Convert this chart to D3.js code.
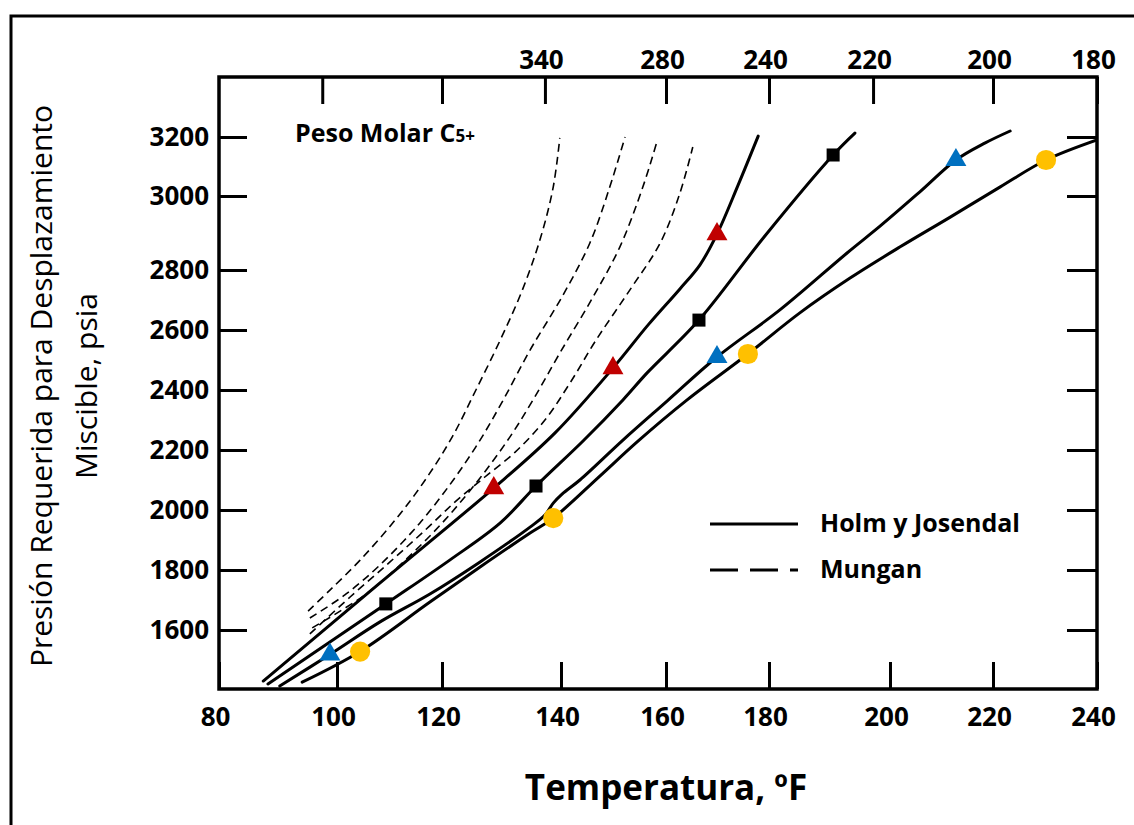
<!DOCTYPE html>
<html>
<head>
<meta charset="utf-8">
<script src="https://cdn.jsdelivr.net/npm/d3@7"></script>
<style>
  html, body { margin: 0; padding: 0; background: #fff; }
  svg { display: block; }
</style>
</head>
<body>
<svg id="chart" width="1134" height="825"></svg>
<script>
// ---- Axis values ----
const tempTicks = [80, 100, 120, 140, 160, 180, 200, 220, 240];          // °F, bottom axis
const pressureTicks = [1600, 1800, 2000, 2200, 2400, 2600, 2800, 3000, 3200]; // psia, left axis
// C5+ molecular-weight scale on the top edge, placed at the temperature of each mark
const molarTickTemps = [97.5, 120, 137.3, 160, 180, 197.2, 220, 240];
const molarTickLabels = ["", "", "340", "280", "240", "220", "200", "180"];

// ---- Holm y Josendal correlation curves: [temperature °F, pressure psia] ----
const holmRed = [[87.5,1427],[108.2,1757],[128.7,2073],[139.0,2257],[149.9,2473],[156.6,2617],
                 [162.7,2737],[166.6,2814],[169.9,2897],[174.0,3037],[177.9,3203]];
const holmBlack = [[88.3,1417],[109.3,1687],[121.3,1833],[129.8,1957],[135.8,2080],[144.2,2230],
                   [151.8,2367],[156.4,2457],[166.4,2633],[179.2,2892],[190.6,3139],[194.2,3213]];
const holmBlue = [[90.3,1410],[98.8,1517],[108.2,1627],[117.7,1720],[126.4,1827],[134.8,1943],
                  [137.3,1983],[138.7,2023],[140.2,2053],[143.6,2100],[151.8,2233],[160.2,2363],
                  [169.9,2510],[181.8,2667],[192.9,2846],[198.4,2919],[205.8,3014],[212.8,3122],
                  [218.5,3180],[223.3,3220]];
const holmYellow = [[94.1,1423],[104.4,1527],[117.7,1693],[126.4,1810],[134.8,1923],[138.7,1973],
                    [147.4,2113],[154.5,2227],[164.1,2367],[175.9,2520],[185.1,2657],[193.4,2773],
                    [201.9,2862],[211.7,2943],[221.4,3031],[230.2,3122],[240.0,3190]];

// ---- Mungan correlation curves (one per C5+ molecular weight) ----
const mungan1 = [[95.1,1663],[98.8,1733],[104.4,1833],[111.1,1967],[116.8,2100],[121.7,2243],
                 [125.7,2400],[129.8,2567],[133.5,2733],[136.6,2889],[138.7,3031],[139.8,3197]];
const mungan2 = [[95.4,1640],[101.5,1717],[108.2,1817],[115.8,1957],[121.9,2100],[126.4,2233],
                 [130.3,2367],[134.8,2533],[140.4,2717],[145.5,2873],[149.3,3031],[152.2,3200]];
const mungan3 = [[95.8,1607],[105.3,1717],[113.0,1833],[120.5,1967],[126.4,2107],[131.4,2243],
                 [135.3,2367],[139.8,2523],[146.1,2710],[151.2,2862],[155.6,3031],[158.3,3186]];
const mungan4 = [[95.4,1587],[102.5,1710],[110.1,1827],[116.8,1933],[122.2,2027],[127.2,2110],
                 [132.3,2193],[137.3,2300],[141.7,2423],[146.7,2567],[153.1,2733],[158.9,2873],
                 [162.7,3010],[165.2,3166]];

// ---- Measured points ----
const pointsRed = [[128.7,2073],[149.9,2473],[169.9,2897]];
const pointsBlack = [[109.3,1687],[135.8,2080],[166.4,2633],[190.6,3139]];
const pointsBlue = [[98.8,1517],[169.9,2510],[212.8,3122]];
const pointsYellow = [[104.4,1527],[138.7,1973],[175.9,2520],[230.2,3122]];

const legendItems = [
  { label: "Holm y Josendal", dash: null },
  { label: "Mungan", dash: "28,12" }
];

// ---- Scales (the printed axes are not evenly graduated) ----
const x = d3.scaleLinear()
  .domain(tempTicks)
  .range([219, 337, 442, 561, 666, 769, 890, 993, 1097]);
const y = d3.scaleLinear()
  .domain([1400, 1600, 1800, 2000, 2200, 2400, 2600, 2800, 3000, 3200, 3400])
  .range([689, 630, 570, 510, 450, 390, 330, 270, 196, 137, 77]);

const FONT = "'Open Sans', 'DejaVu Sans', sans-serif";
const svg = d3.select("#chart");

svg.append("rect").attr("width", 1134).attr("height", 825).attr("fill", "#fff");

// outer frame of the figure
svg.append("rect")
  .attr("x", 11).attr("y", 16).attr("width", 1200).attr("height", 900)
  .attr("fill", "none").attr("stroke", "#000").attr("stroke-width", 3);

const plotLeft = x(80), plotRight = x(240), plotTop = y(3400), plotBottom = y(1400);

svg.append("defs").append("clipPath").attr("id", "plotClip")
  .append("rect").attr("x", plotLeft).attr("y", plotTop)
  .attr("width", plotRight - plotLeft).attr("height", plotBottom - plotTop);

function styleAxis(g) {
  g.select(".domain").remove();
  g.selectAll(".tick line").attr("stroke", "#000").attr("stroke-width", 3);
  g.selectAll(".tick text")
    .attr("font-family", FONT).attr("font-weight", 700)
    .attr("font-size", 26).attr("fill", "#000");
}

const plain = d3.format("d");

// bottom axis: temperature
const gBottom = svg.append("g")
  .attr("transform", `translate(0,${plotBottom})`)
  .call(d3.axisBottom(x).tickValues(tempTicks).tickFormat(plain)
    .tickSizeInner(-27).tickSizeOuter(0).tickPadding(19));
styleAxis(gBottom);
gBottom.selectAll(".tick text").attr("dx", -4);

// top axis: C5+ molecular weight
const gTop = svg.append("g")
  .attr("transform", `translate(0,${plotTop})`)
  .call(d3.axisTop(x).tickValues(molarTickTemps)
    .tickFormat((d, i) => molarTickLabels[i])
    .tickSizeInner(-27).tickSizeOuter(0).tickPadding(8));
styleAxis(gTop);
gTop.selectAll(".tick text").attr("dx", -4);

// left axis: pressure
const gLeft = svg.append("g")
  .attr("transform", `translate(${plotLeft},0)`)
  .call(d3.axisLeft(y).tickValues(pressureTicks).tickFormat(plain)
    .tickSizeInner(-28).tickSizeOuter(0).tickPadding(10));
styleAxis(gLeft);

// right edge: mirrored ticks without labels
const gRight = svg.append("g")
  .attr("transform", `translate(${plotRight},0)`)
  .call(d3.axisRight(y).tickValues(pressureTicks).tickSizeInner(-30).tickSizeOuter(0).tickFormat(""));
styleAxis(gRight);

// plot frame
svg.append("rect")
  .attr("x", plotLeft).attr("y", plotTop)
  .attr("width", plotRight - plotLeft).attr("height", plotBottom - plotTop)
  .attr("fill", "none").attr("stroke", "#000").attr("stroke-width", 3.5);

// ---- curves ----
const line = d3.line()
  .x(d => x(d[0])).y(d => y(d[1]))
  .curve(d3.curveCatmullRom.alpha(0.5));

const curveLayer = svg.append("g").attr("clip-path", "url(#plotClip)");

[mungan1, mungan2, mungan3, mungan4].forEach(s => {
  curveLayer.append("path").datum(s)
    .attr("d", line).attr("fill", "none")
    .attr("stroke", "#000").attr("stroke-width", 1.6)
    .attr("stroke-dasharray", "8,5");
});

[holmRed, holmBlack, holmBlue, holmYellow].forEach(s => {
  curveLayer.append("path").datum(s)
    .attr("d", line).attr("fill", "none")
    .attr("stroke", "#000").attr("stroke-width", 3)
    .attr("stroke-linejoin", "round").attr("stroke-linecap", "round");
});

// ---- markers ----
const markerSets = [
  { data: pointsRed, type: d3.symbolTriangle, size: 190, color: "#C00000" },
  { data: pointsBlack, type: d3.symbolSquare, size: 170, color: "#000000" },
  { data: pointsBlue, type: d3.symbolTriangle, size: 190, color: "#0070C0" },
  { data: pointsYellow, type: d3.symbolCircle, size: 320, color: "#FFC000" }
];
const markerLayer = svg.append("g");
markerSets.forEach(m => {
  markerLayer.selectAll(null).data(m.data).enter().append("path")
    .attr("transform", d => `translate(${x(d[0])},${y(d[1])})`)
    .attr("d", d3.symbol().type(m.type).size(m.size))
    .attr("fill", m.color);
});

// ---- annotation ----
const peso = svg.append("text")
  .attr("x", 295).attr("y", 142)
  .attr("font-family", FONT).attr("font-weight", 700).attr("font-size", 25)
  .attr("fill", "#000");
peso.append("tspan").text("Peso Molar C");
peso.append("tspan").attr("font-size", 17).text("5+");

// ---- legend ----
const legend = svg.append("g");
legendItems.forEach((item, i) => {
  const ly = 524 + i * 46;
  legend.append("line")
    .attr("x1", 710).attr("x2", 798).attr("y1", ly).attr("y2", ly)
    .attr("stroke", "#000").attr("stroke-width", 3)
    .attr("stroke-dasharray", item.dash);
  legend.append("text")
    .attr("x", 820).attr("y", ly + 8)
    .attr("font-family", FONT).attr("font-weight", 700).attr("font-size", 25)
    .attr("fill", "#000").text(item.label);
});

// ---- axis titles ----
svg.append("text")
  .attr("x", (plotLeft + plotRight) / 2 + 8).attr("y", 800)
  .attr("text-anchor", "middle")
  .attr("font-family", FONT).attr("font-weight", 700).attr("font-size", 35)
  .attr("fill", "#000").text("Temperatura, ºF");

const yTitle = ["Presión Requerida para Desplazamiento", "Miscible, psia"];
yTitle.forEach((t, i) => {
  svg.append("text")
    .attr("transform", `translate(${52 + i * 45},386) rotate(-90)`)
    .attr("text-anchor", "middle")
    .attr("font-family", FONT).attr("font-size", 30)
    .attr("fill", "#000").text(t);
});
</script>
</body>
</html>
